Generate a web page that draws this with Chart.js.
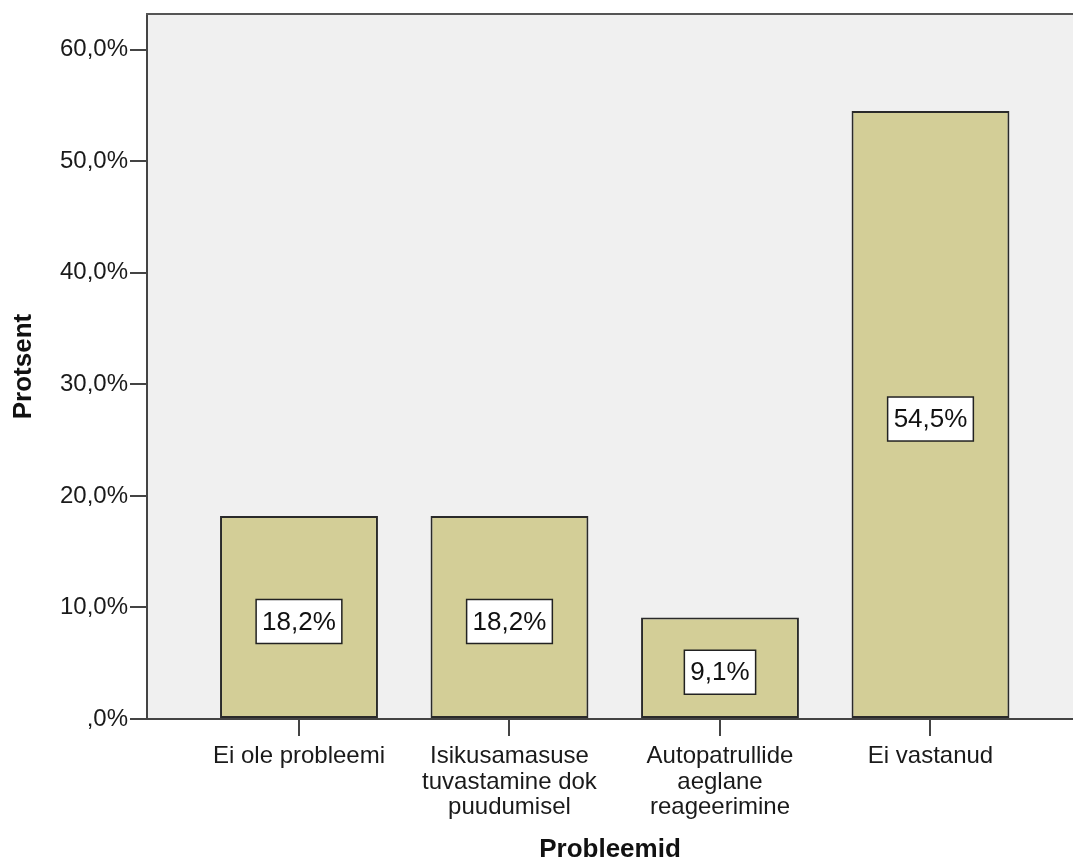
<!DOCTYPE html>
<html>
<head>
<meta charset="utf-8">
<script src="https://cdn.jsdelivr.net/npm/chart.js@4/dist/chart.umd.min.js"></script>
<style>
  html, body { margin: 0; padding: 0; background: #fff; }
</style>
</head>
<body>
<canvas id="chart" width="1073" height="863"></canvas>
<script>
const categories = [
  ['Ei ole probleemi'],
  ['Isikusamasuse', 'tuvastamine dok', 'puudumisel'],
  ['Autopatrullide', 'aeglane', 'reageerimine'],
  ['Ei vastanud']
];
const percentValues = [18.2, 18.2, 9.1, 54.5];
const yTickValues = [0, 10, 20, 30, 40, 50, 60];

const FONT = "'Liberation Sans', Arial, sans-serif";

function fmtPct(v) {
  if (v === 0) return ',0%';
  return v.toFixed(1).replace('.', ',') + '%';
}

// fond gris + bord du haut + etiquettes blanches
const spssPlugin = {
  id: 'spss',
  beforeDraw(chart) {
    const { ctx, chartArea: a } = chart;
    ctx.save();
    ctx.fillStyle = '#f0f0f0';
    ctx.fillRect(a.left, a.top, a.right - a.left, a.bottom - a.top);
    ctx.restore();
  },
  afterDatasetsDraw(chart) {
    const { ctx } = chart;
    const yScale = chart.scales.y;
    const meta = chart.getDatasetMeta(0);
    ctx.save();
    ctx.font = '26px ' + FONT;
    ctx.textAlign = 'center';
    ctx.textBaseline = 'middle';
    meta.data.forEach((bar, i) => {
      const v = percentValues[i];
      const txt = fmtPct(v);
      const w = ctx.measureText(txt).width + 12;
      const h = 44;
      const cy = yScale.getPixelForValue(v / 2) + 4;
      ctx.fillStyle = '#fff';
      ctx.fillRect(bar.x - w / 2, cy - h / 2, w, h);
      ctx.strokeStyle = '#222';
      ctx.lineWidth = 1.5;
      ctx.strokeRect(bar.x - w / 2, cy - h / 2, w, h);
      ctx.fillStyle = '#111';
      ctx.fillText(txt, bar.x, cy + 1);
    });
    ctx.restore();
  },
  afterDraw(chart) {
    const { ctx, chartArea: a } = chart;
    ctx.save();
    ctx.strokeStyle = '#555';
    ctx.lineWidth = 2;
    ctx.beginPath();
    ctx.moveTo(a.left - 1, a.top);
    ctx.lineTo(a.right, a.top);
    ctx.stroke();
    ctx.restore();
  }
};

new Chart(document.getElementById('chart'), {
  type: 'bar',
  data: {
    datasets: [{
      data: percentValues.map((v, i) => ({ x: i, y: v })),
      backgroundColor: '#d3ce97',
      borderColor: '#2a2a2a',
      borderWidth: 2,
      borderSkipped: false,
      categoryPercentage: 1,
      barPercentage: 0.75
    }]
  },
  options: {
    responsive: false,
    animation: false,
    layout: { padding: { top: 14, right: 0, left: 0, bottom: 0 } },
    plugins: {
      legend: { display: false },
      tooltip: { enabled: false }
    },
    scales: {
      x: {
        type: 'linear',
        offset: false,
        min: -0.722,
        max: 3.677,
        afterFit: (s) => { s.height = 144; s.paddingLeft = 0; s.paddingRight = 0; },
        afterBuildTicks: (s) => {
          s.ticks = categories.map((c, i) => ({ value: i }));
        },
        border: { display: true, color: '#444', width: 2 },
        grid: { offset: false, drawOnChartArea: false, drawTicks: true, tickLength: 17, color: '#444', lineWidth: 2 },
        ticks: {
          autoSkip: false,
          maxRotation: 0,
          padding: 7,
          color: '#1a1a1a',
          font: { family: FONT, size: 24, lineHeight: 1.08 },
          callback: (v) => categories[v] || ''
        },
        title: {
          display: true,
          text: 'Probleemid',
          color: '#111',
          font: { family: FONT, size: 26, weight: 'bold', lineHeight: 1 },
          padding: { top: 0, bottom: 0 }
        }
      },
      y: {
        min: 0,
        max: 63.2,
        afterFit: (s) => { s.width = 147; s.paddingTop = 0; s.paddingBottom = 0; },
        afterBuildTicks: (s) => {
          s.ticks = yTickValues.map(v => ({ value: v }));
        },
        border: { display: true, color: '#444', width: 2 },
        grid: { drawOnChartArea: false, drawTicks: true, tickLength: 17, color: '#444', lineWidth: 2 },
        ticks: {
          padding: 2,
          color: '#1a1a1a',
          font: { family: FONT, size: 24 },
          callback: (v) => fmtPct(v)
        },
        title: {
          display: true,
          text: 'Protsent',
          color: '#111',
          font: { family: FONT, size: 26, weight: 'bold', lineHeight: 1 },
          padding: { top: 11, bottom: 0 }
        }
      }
    }
  },
  plugins: [spssPlugin]
});
</script>
</body>
</html>
